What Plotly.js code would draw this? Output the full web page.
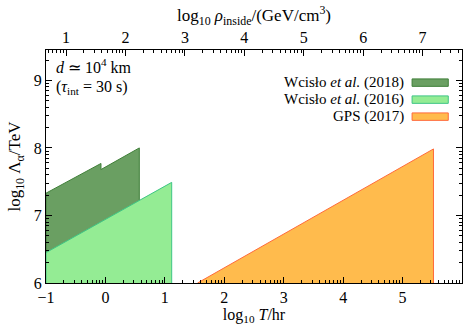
<!DOCTYPE html>
<html><head><meta charset="utf-8">
<script src="https://cdn.plot.ly/plotly-3.0.1.min.js"></script>
<style>html,body{margin:0;padding:0;background:#fff}</style>
</head><body>
<div id="plot" style="width:465px;height:325px"></div>
<script>
// Data (log10 T/hr, log10 Lambda/TeV)
const wcislo2018_x = [-1, -1, -0.075, -0.075, 0.57, 0.57];
const wcislo2018_y = [6, 7.33, 7.77, 7.68, 8.0, 6];
const wcislo2016_x = [-1, -1, 1.115, 1.115];
const wcislo2016_y = [6, 6.45, 7.49, 6];
const gps2017_x = [1.55, 5.52, 5.52];
const gps2017_y = [6, 7.985, 6];
const seriesNames = ["Wcisło <i>et al.</i> (2018)", "Wcisło <i>et al.</i> (2016)", "GPS (2017)"];
const bottomTicks = [-1, 0, 1, 2, 3, 4, 5, 6];
const topTicks = [1, 2, 3, 4, 5, 6, 7];
const yTicks = [6, 7, 8, 9];

const fills = ["#6a9f62", "#94ec94", "#ffbb4d"];
const lines = ["#3f7f38", "#3ec585", "#ff6a3a"];

function logMinor(lo, hi) {
  const out = [];
  for (let n = Math.floor(lo); n <= Math.ceil(hi); n++)
    for (let k = 2; k <= 9; k++) { const v = n + Math.log10(k); if (v > lo && v < hi) out.push(v); }
  return out;
}

const FAM = "Liberation Serif";
function F(size) { return {family: FAM, size: size, color: "#000"}; }
const xr = [-1, 6], yr = [6, 9.45], x2r = [0.663, 7.663];

const traces = [
  {x: wcislo2018_x, y: wcislo2018_y, fill: "toself", fillcolor: fills[0], mode: "lines",
   line: {color: lines[0], width: 1}, name: seriesNames[0], showlegend: false, hoverinfo: "skip"},
  {x: wcislo2016_x, y: wcislo2016_y, fill: "toself", fillcolor: fills[1], mode: "lines",
   line: {color: lines[1], width: 1}, name: seriesNames[1], showlegend: false, hoverinfo: "skip"},
  {x: gps2017_x, y: gps2017_y, fill: "toself", fillcolor: fills[2], mode: "lines",
   line: {color: lines[2], width: 1}, name: seriesNames[2], showlegend: false, hoverinfo: "skip"},
  {x: [topTicks[0]], y: [yTicks[0]], xaxis: "x2", mode: "none", showlegend: false, hoverinfo: "skip"}
];

function ax(extra) {
  return Object.assign({showgrid: false, zeroline: false, showline: true, linecolor: "#000", linewidth: 1,
    ticks: "inside", ticklen: 6, tickcolor: "#000", tickfont: F(16)}, extra);
}

const annotations = [
  {xref: "paper", yref: "paper", x: 0.02, y: 0.93, xanchor: "left", yanchor: "middle", showarrow: false,
   text: "<i>d</i> ≃ 10<sup>4</sup> km", font: F(16)},
  {xref: "paper", yref: "paper", x: 0.02, y: 0.84, xanchor: "left", yanchor: "middle", showarrow: false,
   text: "(<i>τ</i><sub>int</sub> = 30 s)", font: F(16)}
];
const shapes = [];
const legY = [0.86, 0.787, 0.714];
for (let i = 0; i < 3; i++) {
  annotations.push({xref: "paper", yref: "paper", x: 0.862, y: legY[i], xanchor: "right", yanchor: "middle",
    showarrow: false, text: seriesNames[i], font: F(15), borderpad: 0});
  shapes.push({type: "rect", xref: "paper", yref: "paper", x0: 0.88, x1: 0.967,
    y0: legY[i] - 0.016, y1: legY[i] + 0.016, fillcolor: fills[i], line: {color: lines[i], width: 1}});
}

const layout = {
  width: 465, height: 325, margin: {l: 46, r: 3, t: 50, b: 42},
  paper_bgcolor: "#fff", plot_bgcolor: "#fff", font: F(16), showlegend: false,
  xaxis: ax({range: xr, tickvals: bottomTicks, mirror: true,
    minor: {tickvals: logMinor(xr[0], xr[1]), ticks: "inside", ticklen: 3, tickcolor: "#000"},
    title: {text: "log<sub>10</sub> <i>T</i>/hr", font: F(16), standoff: 6}}),
  xaxis2: ax({range: x2r, tickvals: topTicks, overlaying: "x", side: "top",
    minor: {tickvals: logMinor(x2r[0], x2r[1]), ticks: "inside", ticklen: 3, tickcolor: "#000"},
    title: {text: "log<sub>10</sub> <i>ρ</i><sub>inside</sub>/(GeV/cm<sup>3</sup>)", font: F(17), standoff: 2}}),
  yaxis: ax({range: yr, tickvals: yTicks, mirror: "ticks",
    minor: {tickvals: logMinor(yr[0], yr[1]), ticks: "inside", ticklen: 3, tickcolor: "#000"},
    title: {text: "log<sub>10</sub> Λ<sub>α</sub>/TeV", font: F(17), standoff: 8}}),
  annotations: annotations, shapes: shapes
};

Plotly.newPlot("plot", traces, layout, {displayModeBar: false, staticPlot: true});
</script>
</body></html>
